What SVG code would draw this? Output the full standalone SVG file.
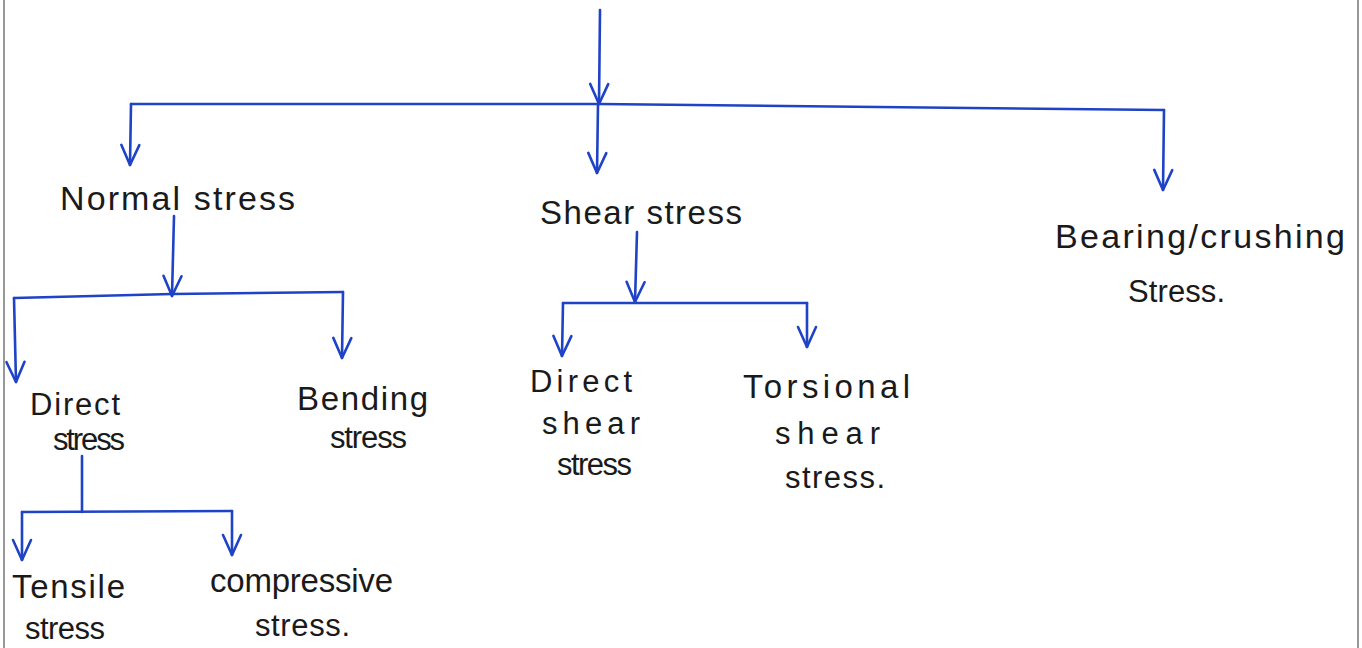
<svg xmlns="http://www.w3.org/2000/svg" width="1362" height="648" viewBox="0 0 1362 648">
<style>
.c{fill:none;stroke:#1f43c6;stroke-width:2.6;stroke-linecap:round;stroke-linejoin:round}
.t{font-family:"Liberation Sans",Arial,sans-serif;font-size:31px;fill:#1a1a1a}
.b{stroke:#777;stroke-width:1.5}
</style>
<defs>
<marker id="ah" markerUnits="userSpaceOnUse" viewBox="-22 -11 24 22" refX="0" refY="0" markerWidth="24" markerHeight="22" orient="auto">
<path d="M-20,-9 L0,0 L-20,9" fill="none" stroke="#1f43c6" stroke-width="2.6" stroke-linecap="round" stroke-linejoin="round"/>
</marker>
</defs>
<rect width="1362" height="648" fill="#ffffff"/>
<line class="b" x1="4" y1="0" x2="4" y2="648"/>
<line class="b" x1="1358" y1="0" x2="1358" y2="648"/>
<g id="connectors">
<path class="c" d="M600,10 L599,104" marker-end="url(#ah)"/>
<path class="c" d="M131,104 L599,104 L1164,110"/>
<path class="c" d="M131,104 L130,165" marker-end="url(#ah)"/>
<path class="c" d="M598,104 L597,173" marker-end="url(#ah)"/>
<path class="c" d="M1164,110 L1163,190" marker-end="url(#ah)"/>
<path class="c" d="M174,216 L172,296" marker-end="url(#ah)"/>
<path class="c" d="M14,298 L172,294 L343,292"/>
<path class="c" d="M14,298 L16,382" marker-end="url(#ah)"/>
<path class="c" d="M343,292 L342,358" marker-end="url(#ah)"/>
<path class="c" d="M82,456 L82,512"/>
<path class="c" d="M22,512 L232,511"/>
<path class="c" d="M22,512 L22,560" marker-end="url(#ah)"/>
<path class="c" d="M232,511 L232,555" marker-end="url(#ah)"/>
<path class="c" d="M637,232 L635,302" marker-end="url(#ah)"/>
<path class="c" d="M563,303 L807,303"/>
<path class="c" d="M563,303 L562,356" marker-end="url(#ah)"/>
<path class="c" d="M807,303 L807,347" marker-end="url(#ah)"/>
</g>
<g id="normal"><text class="t" x="60" y="210" textLength="235" lengthAdjust="spacing" style="font-size:34px">Normal stress</text></g>
<g id="shear"><text class="t" x="540" y="224" textLength="202" lengthAdjust="spacing" style="font-size:33px">Shear stress</text></g>
<g id="bearing"><text class="t" x="1055" y="248" textLength="290" lengthAdjust="spacing" style="font-size:34px">Bearing/crushing</text><text class="t" x="1128" y="302" textLength="97" lengthAdjust="spacing">Stress.</text></g>
<g id="direct"><text class="t" x="30" y="415" textLength="90" lengthAdjust="spacing">Direct</text><text class="t" x="53" y="450" textLength="72" lengthAdjust="spacing">stress</text></g>
<g id="bending"><text class="t" x="297" y="410" textLength="131" lengthAdjust="spacing" style="font-size:33px">Bending</text><text class="t" x="330" y="448" textLength="77" lengthAdjust="spacing">stress</text></g>
<g id="tensile"><text class="t" x="12" y="598" textLength="113" lengthAdjust="spacing" style="font-size:33px">Tensile</text><text class="t" x="25" y="639" textLength="80" lengthAdjust="spacing">stress</text></g>
<g id="compressive"><text class="t" x="210" y="592" textLength="183" lengthAdjust="spacing" style="font-size:33px">compressive</text><text class="t" x="255" y="636" textLength="95" lengthAdjust="spacing">stress.</text></g>
<g id="direct-shear"><text class="t" x="530" y="392" textLength="102" lengthAdjust="spacing">Direct</text><text class="t" x="542" y="434" textLength="98" lengthAdjust="spacing">shear</text><text class="t" x="557" y="475" textLength="75" lengthAdjust="spacing">stress</text></g>
<g id="torsional"><text class="t" x="743" y="398" textLength="167" lengthAdjust="spacing" style="font-size:33px">Torsional</text><text class="t" x="775" y="444" textLength="105" lengthAdjust="spacing">shear</text><text class="t" x="785" y="488" textLength="100" lengthAdjust="spacing">stress.</text></g>
</svg>
